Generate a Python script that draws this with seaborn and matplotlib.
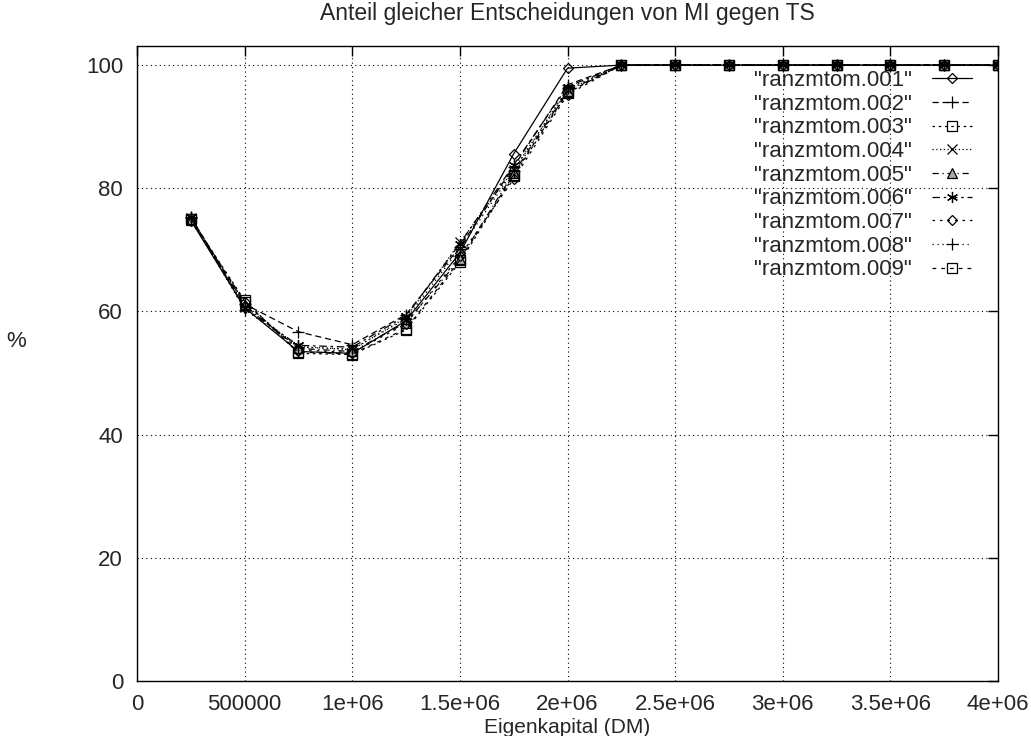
import matplotlib
matplotlib.use("Agg")
import matplotlib.pyplot as plt
import seaborn as sns
import pandas as pd

x_vals = [250000, 500000, 750000, 1000000, 1250000, 1500000, 1750000, 2000000,
          2250000, 2500000, 2750000, 3000000, 3250000, 3500000, 3750000, 4000000]
tail = [100.0] * 8
s001 = [74.8, 60.6, 53.5, 53.2, 58.5, 69.5, 85.6, 99.5] + tail
s002 = [75.3, 61.2, 56.7, 54.6, 59.5, 70.5, 83.5, 96.8] + tail
s003 = [75.0, 61.8, 53.2, 53.0, 57.0, 68.0, 82.0, 95.5] + tail
s004 = [75.2, 60.8, 54.3, 53.8, 59.0, 71.2, 83.0, 96.0] + tail
s005 = [74.9, 61.0, 54.0, 53.5, 58.2, 68.5, 82.5, 95.8] + tail
s006 = [75.4, 60.5, 54.5, 54.2, 59.3, 71.0, 83.8, 96.5] + tail
s007 = [74.7, 61.5, 53.8, 53.3, 58.0, 69.0, 81.5, 95.2] + tail
s008 = [75.1, 60.3, 54.2, 53.9, 58.8, 70.2, 82.8, 96.2] + tail
s009 = [75.0, 61.6, 53.4, 53.1, 57.2, 68.3, 82.2, 95.6] + tail
series_names = ['"ranzmtom.001"', '"ranzmtom.002"', '"ranzmtom.003"', '"ranzmtom.004"',
                '"ranzmtom.005"', '"ranzmtom.006"', '"ranzmtom.007"', '"ranzmtom.008"',
                '"ranzmtom.009"']
series_values = [s001, s002, s003, s004, s005, s006, s007, s008, s009]
x_ticks = [0, 500000, 1000000, 1500000, 2000000, 2500000, 3000000, 3500000, 4000000]
x_ticklabels = ["0", "500000", "1e+06", "1.5e+06", "2e+06", "2.5e+06", "3e+06", "3.5e+06", "4e+06"]
y_ticks = [0, 20, 40, 60, 80, 100]
y_ticklabels = ["0", "20", "40", "60", "80", "100"]

sns.set_style("white")
plt.rcParams['font.family'] = ['Liberation Sans', 'DejaVu Sans']

styles = [
    ((), 'D', 'none', 5.5),
    ((5, 3), '+', 'none', 8),
    ((2, 3), 's', 'none', 6.5),
    ((1, 2), 'x', 'none', 7),
    ((5, 3, 1, 3), '^', '#aaaaaa', 7),
    ((6, 3, 2, 3), (6, 2, 0), 'none', 8),
    ((2, 4), 'D', 'none', 5.5),
    ((1, 3), '+', 'none', 8),
    ((3, 4), 's', 'none', 6.5),
]

fig = plt.figure(figsize=(10.31, 7.36), dpi=100)
ax = fig.add_axes([137/1031, 55/736, (998-137)/1031, (681-46)/736])

for name, vals, (dash, mk, fc, ms) in zip(series_names, series_values, styles):
    df = pd.DataFrame({"x": x_vals, "y": vals})
    ls = '-' if dash == () else (0, dash)
    sns.lineplot(data=df, x="x", y="y", ax=ax, color='black', linewidth=0.9,
                 linestyle=ls, marker=mk, markersize=ms, markerfacecolor=fc,
                 markeredgecolor='black', markeredgewidth=0.9, label=name)

ax.set_xlim(0, 4000000)
ax.set_ylim(0, 103.1)
ax.set_xticks(x_ticks)
ax.set_xticklabels(x_ticklabels, fontsize=16)
ax.set_yticks(y_ticks)
ax.set_yticklabels(y_ticklabels, fontsize=16)
ax.tick_params(direction='in', top=True, right=True, length=7, width=1, color='black')
ax.tick_params(axis='x', pad=9.5)
ax.tick_params(axis='y', pad=10)
ax.grid(True, linestyle=(0, (1, 3)), color='black', linewidth=0.8)
for sp in ax.spines.values():
    sp.set_color('black')
    sp.set_linewidth(1.0)
ax.set_xlabel("Eigenkapital (DM)", fontsize=15)
ax.xaxis.set_label_coords(0.5, -0.058)
ax.set_ylabel("%", fontsize=16, rotation=0)
ax.yaxis.set_label_coords(-0.14, 0.518)
ax.set_title("Anteil gleicher Entscheidungen von MI gegen TS", fontsize=16.5, pad=19)

leg = ax.legend(loc='upper right', bbox_to_anchor=(0.985, 0.983), frameon=False,
                markerfirst=False, fontsize=16, handlelength=1.8, labelspacing=0.12,
                handletextpad=0.9, borderaxespad=0.2)

fig.savefig("out.png", dpi=100)
